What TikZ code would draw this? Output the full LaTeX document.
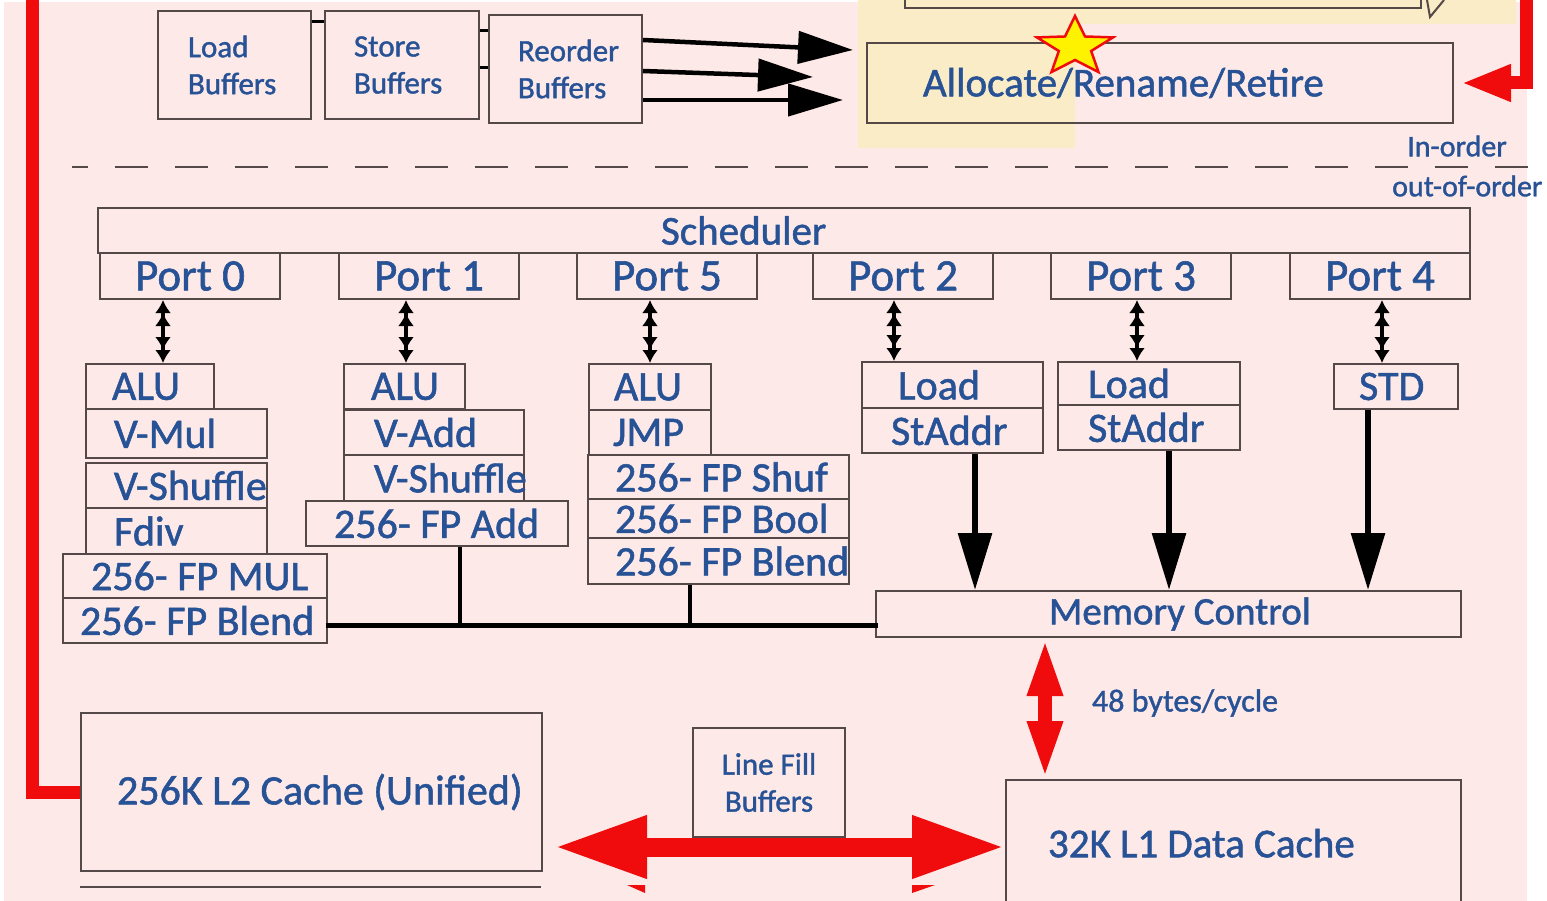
\documentclass[tikz,border=0pt]{standalone}
\usepackage{fontspec}
\setmainfont{Carlito}[FakeBold=1.3]
\usetikzlibrary{arrows.meta}
\definecolor{bg}{RGB}{253,234,232}
\definecolor{txt}{RGB}{40,82,150}
\definecolor{edge}{RGB}{85,72,72}
\definecolor{hl}{RGB}{250,236,198}
\definecolor{rd}{RGB}{240,12,12}
\newcommand\fs[1]{\fontsize{#1}{#1}\selectfont}
% x y w h name indent size text
\newcommand\bx[8]{\node[box, minimum width=#3pt, minimum height=#4pt] (#5) at (#1,#2) {\fs{#7}\hbox to #3pt{\hspace{#6pt}#8\hss}};}
\newcommand\cbx[7]{\node[box, minimum width=#3pt, minimum height=#4pt] (#5) at (#1,#2) {\fs{#6}\hbox to #3pt{\hss #7\hss}};}
\tikzset{
  box/.style={draw=edge, line width=2pt, inner sep=0pt, anchor=north west, text=txt},
  lbl/.style={inner sep=0pt, text=txt},
  dbl/.style={line width=4pt, {Latex[length=13pt,width=16pt] Latex[length=13pt,width=16pt]}-{Latex[length=13pt,width=16pt] Latex[length=13pt,width=16pt]}},
  downarr/.style={line width=6pt, -{Triangle[length=57pt,width=33pt]}},
  toparr/.style={line width=4.5pt, -{Triangle[length=55pt,width=32pt]}},
  bus/.style={line width=5pt, line cap=rect},
  redline/.style={draw=rd, line width=13pt},
}
\begin{document}
\begin{tikzpicture}[x=1pt,y=-1pt]
\useasboundingbox (0,0) rectangle (1547,901);
\fill[white] (0,0) rectangle (1547,901);
\fill[bg] (4,2) rectangle (1527,901);
\fill[hl] (858,0) rectangle (1075,148);
\fill[hl] (858,0) rectangle (1516,24);
% partial box at top
\draw[edge, line width=2pt] (905,0) -- (905,8) -- (1421,8) -- (1421,0);
\draw[edge, line width=2pt] (1427,0) -- (1430,17) -- (1444,0);

% buffers
\node[box, minimum width=153pt, minimum height=108pt] (lb) at (157,10) {\fs{31}\hbox to 153pt{\hspace{30pt}\vbox{\baselineskip=37pt\hbox{Load}\hbox{Buffers}}\hss}};
\node[box, minimum width=154pt, minimum height=108pt] (sb) at (324,10) {\fs{31}\hbox to 154pt{\hspace{29pt}\vbox{\baselineskip=37pt\hbox{Store}\hbox{Buffers}}\hss}};
\node[box, minimum width=153pt, minimum height=108pt] (rob) at (488,14) {\fs{31}\hbox to 153pt{\hspace{29pt}\vbox{\baselineskip=37pt\hbox{Reorder}\hbox{Buffers}}\hss}};
\coordinate (cy1) at (0,22);
\coordinate (cy2) at (0,31);
\coordinate (cy3) at (0,68);
\draw[line width=3pt] (lb.east |- cy1) -- (sb.west |- cy1);
\draw[line width=3pt] (sb.east |- cy2) -- (rob.west |- cy2);
\draw[line width=3pt] (sb.east |- cy3) -- (rob.west |- cy3);

% allocate
\bx{866}{42}{586}{80}{alloc}{56}{41}{Allocate/Rename/Retire}
\coordinate (t1) at (853,50);
\coordinate (t2) at (813,77);
\coordinate (t3) at (843,100);
\draw[toparr] ([yshift=29pt]rob.east) -- (t1);
\draw[toparr] ([yshift=-2pt]rob.east) -- (t2);
\draw[toparr] ([yshift=-31pt]rob.east) -- (t3);

% star
\draw[fill=yellow, draw=rd, line width=2.5pt, line join=miter]
  (1075,47) +(-90:40 and 31) -- +(-54:17 and 13) -- +(-18:40 and 31) -- +(18:17 and 13)
  -- +(54:40 and 31) -- +(90:17 and 13) -- +(126:40 and 31) -- +(162:17 and 13)
  -- +(198:40 and 31) -- +(234:17 and 13) -- cycle;

% red top-right arrow
\coordinate (rtop) at (1526,0);
\draw[redline, line join=miter, -{Triangle[length=50pt,width=34pt]}] (rtop) |- ([xshift=7pt]alloc.east);

% in-order labels
\node[lbl, font=\fs{30}] (inord) at (1457,146) {In-order};
\node[lbl, font=\fs{30}, anchor=west] (outord) at (1392,186) {out-of-order};
\draw[edge, line width=2pt, dash pattern=on 33pt off 27pt, dash phase=17pt] (72,167) -- (1547,167);

% scheduler and ports
\bx{97}{207}{1372}{45}{sched}{563}{41}{Scheduler}
\cbx{99}{252}{180}{46}{port0}{45}{Port 0}
\cbx{338}{252}{180}{46}{port1}{45}{Port 1}
\cbx{576}{252}{180}{46}{port5}{45}{Port 5}
\cbx{812}{252}{180}{46}{port2}{45}{Port 2}
\cbx{1050}{252}{180}{46}{port3}{45}{Port 3}
\cbx{1289}{252}{180}{46}{port4}{45}{Port 4}

% port 0 units
\bx{85}{363}{128}{45}{p0a}{26}{42}{ALU}
\bx{85}{408}{181}{49}{p0b}{28}{42}{V-Mul}
\bx{85}{462}{181}{45}{p0c}{28}{42}{V-Shuffle}
\bx{85}{507}{181}{46}{p0d}{28}{42}{Fdiv}
\bx{62}{553}{264}{44}{p0e}{28}{42}{256- FP MUL}
\bx{62}{597}{264}{45}{p0f}{17}{42}{256- FP Blend}
% port 1 units
\bx{343}{363}{121}{45}{p1a}{27}{42}{ALU}
\bx{343}{409}{180}{45}{p1b}{30}{42}{V-Add}
\bx{343}{454}{180}{46}{p1c}{30}{42}{V-Shuffle}
\bx{305}{500}{262}{45}{p1d}{28}{42}{256- FP Add}
% port 5 units
\bx{588}{363}{122}{46}{p5a}{25}{42}{ALU}
\bx{588}{409}{122}{45}{p5b}{24}{42}{JMP}
\bx{587}{454}{261}{44}{p5c}{27}{42}{256- FP Shuf}
\bx{587}{498}{261}{39}{p5d}{27}{42}{256- FP Bool}
\bx{587}{537}{261}{46}{p5e}{27}{42}{256- FP Blend}
% port 2,3,4 units
\bx{861}{361}{181}{46}{p2a}{36}{42}{Load}
\bx{861}{407}{181}{45}{p2b}{29}{42}{StAddr}
\bx{1057}{361}{182}{43}{p3a}{30}{42}{Load}
\bx{1057}{404}{182}{45}{p3b}{30}{42}{StAddr}
\bx{1333}{363}{124}{45}{p4a}{25}{42}{STD}

% port arrows
\coordinate (ax0) at (163,0);
\coordinate (ax1) at (406,0);
\coordinate (ax5) at (650,0);
\coordinate (ax2) at (894,0);
\coordinate (ax3) at (1137,0);
\coordinate (ax4) at (1382,0);
\draw[dbl] (port0.south -| ax0) -- (p0a.north -| ax0);
\draw[dbl] (port1.south -| ax1) -- (p1a.north -| ax1);
\draw[dbl] (port5.south -| ax5) -- (p5a.north -| ax5);
\draw[dbl] (port2.south -| ax2) -- (p2a.north -| ax2);
\draw[dbl] (port3.south -| ax3) -- (p3a.north -| ax3);
\draw[dbl] (port4.south -| ax4) -- (p4a.north -| ax4);

% memory control
\bx{875}{590}{585}{46}{mem}{173}{39}{Memory Control}
\coordinate (busy) at (0,625);
\coordinate (dx1) at (460,0);
\coordinate (dx5) at (690,0);
\draw[bus] (p0f.east |- busy) -- (mem.west |- busy);
\draw[line width=4.5pt] (p1d.south -| dx1) -- (busy -| dx1);
\draw[line width=4.5pt] (p5e.south -| dx5) -- (busy -| dx5);
\coordinate (dn2) at (975,0);
\coordinate (dn3) at (1169,0);
\coordinate (dn4) at (1368,0);
\draw[downarr] (p2b.south -| dn2) -- (mem.north -| dn2);
\draw[downarr] (p3b.south -| dn3) -- (mem.north -| dn3);
\draw[downarr] (p4a.south -| dn4) -- (mem.north -| dn4);

% caches
\bx{80}{712}{461}{158}{l2}{36}{42}{\raisebox{-10pt}{256K L2 Cache (Unified)}}
\draw[edge, line width=2pt] (80,887) -- (541,887);
\node[box, minimum width=152pt, minimum height=109pt] (lfb) at (692,727) {\fs{31}\hbox to 152pt{\hss\vbox{\baselineskip=37pt\halign{\hfil#\hfil\cr Line Fill\cr Buffers\cr}}\hss}};
\bx{1005}{779}{455}{140}{l1}{42}{41}{\raisebox{14pt}{32K L1 Data Cache}}

% red connectors
\coordinate (rleft) at (32,0);
\draw[redline, line join=miter] (rleft) |- (l2.west);
\coordinate (rx) at (1045,0);
\draw[draw=rd, line width=14pt, {Triangle[length=58pt,width=32pt]}-{Triangle[length=58pt,width=32pt]}] (mem.south -| rx) -- (l1.north -| rx);
\node[lbl, font=\fs{32}] (bw) at (1185,703) {48 bytes/cycle};
\coordinate (ry) at (0,847);
\draw[draw=rd, line width=19pt, shorten <=11pt, {Triangle[length=93pt,width=58pt]}-{Triangle[length=93pt,width=58pt]}] (l2.east |- ry) -- (l1.west |- ry);
\fill[rd] (627,885) -- (645,885) -- (645,893) -- cycle;
\fill[rd] (912,885) -- (935,885) -- (912,893) -- cycle;
\end{tikzpicture}
\end{document}
